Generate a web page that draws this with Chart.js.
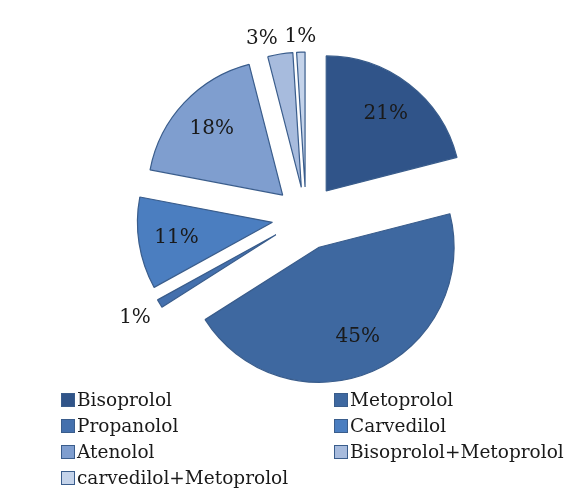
<!DOCTYPE html>
<html>
<head>
<meta charset="utf-8">
<script src="https://cdn.jsdelivr.net/npm/chart.js@4.4.1/dist/chart.umd.min.js"></script>
<style>
  html, body { margin: 0; padding: 0; background: #fff; }
  #wrap { position: relative; width: 584px; height: 488px; }
  #legend { position: absolute; left: 61px; top: 388px; width: 520px; font-family: "DejaVu Serif", serif; font-size: 18.5px; color: #1a1a1a; }
  .item { position: absolute; white-space: nowrap; line-height: 24px; }
  .item i { display: inline-block; width: 12px; height: 12px; border: 1px solid #3a5d8c; margin-right: 2px; vertical-align: -1px; }
</style>
</head>
<body>
<div id="wrap">
  <canvas id="chart" width="584" height="488"></canvas>
  <div id="legend"></div>
</div>
<script>
const drugs = ['Bisoprolol', 'Metoprolol', 'Propanolol', 'Carvedilol', 'Atenolol', 'Bisoprolol+Metoprolol', 'carvedilol+Metoprolol'];
const shares = [21, 45, 1, 11, 18, 3, 1];
const sliceColors = ['#305489', '#3e68a0', '#4470ad', '#4b7ec0', '#7f9ecf', '#a7bbdd', '#c4d3ea'];
// how far each slice is pulled out, in px
const explode = [33, 33, 35, 34, 32, 30, 30];
const R = 135;

const chartEl = document.getElementById('chart');
const legendEl = document.getElementById('legend');

function midDir(arc) {
  const mid = (arc.startAngle + arc.endAngle) / 2;
  return [Math.cos(mid), Math.sin(mid)];
}

// draw the arcs ourselves, just shifted out; chart.js' own offset trims thin slices
const explodedPie = {
  id: 'explodedPie',
  beforeDatasetDraw(chart, args) {
    const ctx = chart.ctx;
    args.meta.data.forEach((arc, i) => {
      const [dx, dy] = midDir(arc);
      ctx.save();
      ctx.translate(dx * explode[i], dy * explode[i]);
      arc.draw(ctx);
      ctx.restore();
    });
    return false;
  }
};

// percentage labels: inside for big slices, outside for the thin ones
const pctLabels = {
  id: 'pctLabels',
  afterDatasetsDraw(chart) {
    const ctx = chart.ctx;
    const meta = chart.getDatasetMeta(0);
    ctx.save();
    ctx.font = '20px "DejaVu Serif", serif';
    ctx.fillStyle = '#1a1a1a';
    ctx.textBaseline = 'middle';
    meta.data.forEach((arc, i) => {
      const [dx, dy] = midDir(arc);
      const txt = shares[i] + '%';
      let dist = explode[i] + R * 0.72;
      let align = 'center';
      if (shares[i] < 5) {
        dist = explode[i] + R + 15;
        if (Math.abs(dx) > 0.5) dist += ctx.measureText(txt).width / 2 * Math.abs(dx);
        else if (Math.abs(dx) > 0.1) align = dx < 0 ? 'right' : 'left';
      }
      ctx.textAlign = align;
      ctx.fillText(txt, arc.x + dx * dist, arc.y + dy * dist);
    });
    ctx.restore();
  }
};

new Chart(chartEl, {
  type: 'pie',
  data: {
    labels: drugs,
    datasets: [{
      data: shares,
      backgroundColor: sliceColors,
      borderColor: '#3a5d8c',
      borderWidth: 1.2,
      hoverOffset: 0
    }]
  },
  options: {
    responsive: false,
    animation: false,
    radius: R,
    layout: { padding: { left: 126, right: 98, top: 37, bottom: 91 } },
    plugins: {
      legend: { display: false },
      tooltip: { enabled: false }
    }
  },
  plugins: [explodedPie, pctLabels]
});

drugs.forEach((name, i) => {
  const item = document.createElement('div');
  item.className = 'item';
  item.style.left = (i % 2 === 0 ? 0 : 273) + 'px';
  item.style.top = (Math.floor(i / 2) * 26) + 'px';
  item.innerHTML = `<i style="background:${sliceColors[i]}"></i>${name}`;
  legendEl.appendChild(item);
});
</script>
</body>
</html>
